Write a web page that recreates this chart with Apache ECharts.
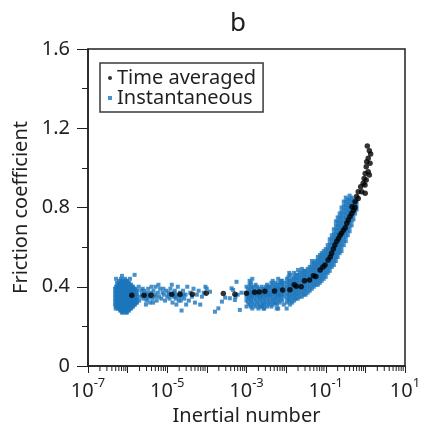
<!DOCTYPE html>
<html><head><meta charset="utf-8">
<script src="https://cdn.jsdelivr.net/npm/echarts@6/dist/echarts.min.js"></script>
<style>html,body{margin:0;padding:0;background:#fff}#c{width:422px;height:424px}</style>
</head><body><div id="c"></div>
<script>
const FONT = 'Noto Sans';
const INK = '#231f20';
const BLUE = '#1b75bb';
const titleText = 'b';
const xName = 'Inertial number';
const yName = 'Friction coefficient';
const seriesNames = ['Time averaged', 'Instantaneous'];
const xMin = 1e-7, xMax = 10;
const yMin = 0, yMax = 1.6, yStep = 0.4;
const xLabelExponents = [-7, -5, -3, -1, 1];
const minorTickMantissas = [2, 3, 4, 5, 6, 7, 8, 9];

// Time averaged (black dots)
const timeAveraged = [
  [1.27e-6,0.357],[2.6e-6,0.357],[3.9e-6,0.357],[1.3e-5,0.362],[2.1e-5,0.362],[4.3e-5,0.362],
  [9.6e-5,0.367],[2.6e-4,0.366],[5.1e-4,0.362],[1.0e-3,0.367],[1.6e-3,0.372],[2.1e-3,0.373],
  [2.9e-3,0.377],[5.1e-3,0.379],[8.2e-3,0.383],[1.25e-2,0.385],[1.6e-2,0.41],[1.8e-2,0.403],
  [2.4e-2,0.40],[2.9e-2,0.43],[3.9e-2,0.434],[4.9e-2,0.455],[5.6e-2,0.452],[7.2e-2,0.484],
  [8.5e-2,0.50],[9.6e-2,0.51],[0.115,0.535],[0.13,0.55],[0.141,0.569],[0.155,0.59],[0.17,0.611],
  [0.19,0.63],[0.209,0.644],[0.23,0.66],[0.25,0.67],[0.28,0.685],[0.31,0.698],[0.34,0.72],
  [0.37,0.737],[0.41,0.755],[0.45,0.77],[0.5,0.785],[0.55,0.80],[0.46,0.804],[0.55,0.829],
  [0.60,0.855],[0.66,0.846],[0.66,0.88],[0.76,0.905],[0.81,0.88],[0.88,0.922],[0.99,0.872],
  [0.98,0.913],[0.93,0.947],[1.05,0.939],[0.99,0.972],[1.26,0.964],[1.18,0.98],[1.05,1.006],
  [1.31,1.023],[1.08,1.031],[1.18,1.048],[1.36,1.07],[1.26,1.087],[1.12,1.11]
];

// Instantaneous (blue squares): columns [x, [y values read at that x]]
const instBlob = [
  [4.8e-7,[0.31,0.33,0.35,0.37,0.39]],
  [5.1e-7,[0.30,0.32,0.34,0.36,0.38,0.40]],
  [5.4e-7,[0.30,0.32,0.34,0.36,0.38,0.40,0.42]],
  [5.75e-7,[0.29,0.31,0.33,0.35,0.37,0.39,0.41]],
  [6.1e-7,[0.29,0.31,0.33,0.35,0.37,0.39,0.41,0.43]],
  [6.45e-7,[0.28,0.30,0.32,0.34,0.36,0.38,0.40,0.42]],
  [6.8e-7,[0.28,0.30,0.32,0.34,0.36,0.38,0.40,0.42,0.44]],
  [7.2e-7,[0.27,0.29,0.31,0.33,0.35,0.37,0.39,0.41,0.43]],
  [7.6e-7,[0.27,0.29,0.31,0.33,0.35,0.37,0.39,0.41,0.43]],
  [8.1e-7,[0.28,0.30,0.32,0.34,0.36,0.38,0.40,0.42]],
  [8.6e-7,[0.28,0.30,0.32,0.34,0.36,0.38,0.40,0.42,0.44]],
  [9.1e-7,[0.27,0.29,0.31,0.33,0.35,0.37,0.39,0.41,0.43]],
  [9.6e-7,[0.27,0.29,0.31,0.33,0.35,0.37,0.39,0.41,0.43]],
  [1.02e-6,[0.28,0.30,0.32,0.34,0.36,0.38,0.40,0.42]],
  [1.08e-6,[0.28,0.30,0.32,0.34,0.36,0.38,0.40,0.42]],
  [1.15e-6,[0.29,0.31,0.33,0.35,0.37,0.39,0.41]],
  [1.22e-6,[0.29,0.31,0.33,0.35,0.37,0.39,0.41]],
  [1.3e-6,[0.30,0.32,0.34,0.36,0.38,0.40]],
  [1.37e-6,[0.30,0.32,0.34,0.36,0.38,0.40]],
  [1.45e-6,[0.31,0.33,0.35,0.37,0.39]],
  [1.54e-6,[0.31,0.33,0.35,0.37,0.39]],
  [1.63e-6,[0.32,0.34,0.36,0.38]],
  [1.73e-6,[0.32,0.34,0.36,0.38]]
];
const instFlat = [
  [5.1e-7,0.44],[7.2e-7,0.455],[1.5e-6,0.46],[1.15e-6,0.44],[5.0e-7,0.29],[1.9e-6,0.40],[1.95e-6,0.33],
  [2.3e-6,0.36],[2.5e-6,0.34],[2.6e-6,0.38],[2.8e-6,0.35],[3.0e-6,0.33],[3.1e-6,0.37],[3.3e-6,0.39],
  [3.5e-6,0.35],[3.7e-6,0.32],[3.9e-6,0.37],[4.2e-6,0.34],[4.5e-6,0.38],[4.8e-6,0.36],[5.1e-6,0.40],
  [5.4e-6,0.33],[5.8e-6,0.37],[6.2e-6,0.35],[6.6e-6,0.39],[7.1e-6,0.34],[7.6e-6,0.37],[8.2e-6,0.36],
  [8.8e-6,0.33],[9.4e-6,0.38],[1.0e-5,0.35],[1.07e-5,0.37],[1.14e-5,0.34],[1.2e-5,0.39],[1.28e-5,0.36],
  [1.36e-5,0.32],[1.45e-5,0.35],[1.55e-5,0.38],[1.65e-5,0.34],[1.75e-5,0.36],[1.85e-5,0.40],[1.95e-5,0.33],
  [2.1e-5,0.37],[2.3e-5,0.28],[2.3e-5,0.35],[2.5e-5,0.38],[2.7e-5,0.34],[2.9e-5,0.36],[3.2e-5,0.40],
  [3.5e-5,0.33],[3.8e-5,0.37],[4.2e-5,0.35],[4.6e-5,0.39],[5.0e-5,0.32],[5.6e-5,0.36],[6.2e-5,0.38],
  [6.8e-5,0.31],[7.5e-5,0.35],[8.3e-5,0.37],[9.2e-5,0.40],[9.9e-5,0.39],[1.2e-4,0.375],
  [2.4e-6,0.39],[2.9e-6,0.31],[3.4e-6,0.36],[4.0e-6,0.40],[4.4e-6,0.32],[5.0e-6,0.35],[1.3e-5,0.41],
  [1.5e-5,0.37],[1.7e-5,0.31],[2.0e-5,0.35],[2.2e-5,0.33],[2.6e-5,0.36],[3.0e-5,0.31],[1.6e-5,0.35],
  [1.1e-5,0.36],[8.0e-6,0.39],[6.0e-6,0.41],[2.1e-6,0.35],[2.2e-6,0.38],[2.7e-6,0.36],[3.2e-6,0.34],
  [1.6e-4,0.274],[1.95e-4,0.291],[2.4e-4,0.325],[2.9e-4,0.345],[3.8e-4,0.342],[4.2e-4,0.392],
  [4.6e-4,0.384],[5.1e-4,0.333],[5.6e-4,0.425],[5.3e-4,0.35],[6.8e-4,0.283],[6.0e-4,0.36],[7.5e-4,0.37]
];
const instMid = [
  [1.0e-3,[0.30,0.33,0.35,0.37,0.40]],
  [1.1e-3,[0.32,0.34,0.36,0.39]],
  [1.2e-3,[0.31,0.34,0.36,0.38,0.41,0.43]],
  [1.3e-3,[0.30,0.33,0.35,0.37,0.40,0.42]],
  [1.4e-3,[0.29,0.32,0.35,0.37,0.39,0.44]],
  [1.55e-3,[0.31,0.34,0.36,0.38,0.40]],
  [1.7e-3,[0.30,0.33,0.36,0.38,0.41]],
  [1.85e-3,[0.32,0.35,0.37,0.40]],
  [2.0e-3,[0.29,0.31,0.34,0.36,0.39]],
  [2.2e-3,[0.30,0.33,0.35,0.38]],
  [2.4e-3,[0.30,0.32,0.35,0.37,0.40]],
  [2.6e-3,[0.31,0.34,0.36,0.39]],
  [2.8e-3,[0.29,0.31,0.33,0.36,0.38]],
  [3.05e-3,[0.32,0.35,0.37,0.40]],
  [3.3e-3,[0.30,0.34,0.36,0.39,0.41]],
  [3.6e-3,[0.31,0.33,0.36,0.38,0.40]],
  [3.9e-3,[0.32,0.35,0.37,0.40]],
  [4.25e-3,[0.30,0.34,0.36,0.39,0.42]],
  [4.6e-3,[0.31,0.33,0.36,0.38,0.41,0.43]],
  [5.0e-3,[0.32,0.34,0.37,0.40]],
  [5.4e-3,[0.32,0.35,0.37,0.39,0.42]],
  [5.85e-3,[0.31,0.34,0.36,0.39,0.41]],
  [6.3e-3,[0.29,0.33,0.36,0.38,0.40,0.44]],
  [6.8e-3,[0.32,0.35,0.37,0.39,0.42]],
  [7.4e-3,[0.34,0.36,0.39,0.41,0.43]],
  [8.0e-3,[0.33,0.36,0.38,0.41,0.43]],
  [8.7e-3,[0.31,0.35,0.37,0.40,0.42]]
];
const instRise = [
  [0.0105,[0.32,0.34,0.36,0.38,0.40,0.42,0.44]],
  [0.0115,[0.33,0.35,0.37,0.39,0.41,0.43,0.45]],
  [0.0126,[0.31,0.33,0.35,0.37,0.39,0.41,0.43,0.46]],
  [0.0142,[0.32,0.34,0.36,0.38,0.40,0.42,0.44]],
  [0.0159,[0.33,0.35,0.37,0.39,0.41,0.43,0.45,0.47]],
  [0.0177,[0.34,0.36,0.38,0.40,0.42,0.44,0.46]],
  [0.0197,[0.34,0.36,0.38,0.40,0.42,0.44,0.46]],
  [0.022,[0.35,0.37,0.39,0.41,0.43,0.45,0.47]],
  [0.025,[0.35,0.37,0.39,0.41,0.43,0.45,0.47,0.49]],
  [0.028,[0.36,0.38,0.40,0.42,0.44,0.46,0.48]],
  [0.031,[0.36,0.38,0.40,0.42,0.44,0.46,0.48]],
  [0.035,[0.37,0.39,0.41,0.43,0.45,0.47,0.49]],
  [0.0395,[0.38,0.40,0.42,0.44,0.46,0.48,0.50]],
  [0.0445,[0.39,0.41,0.43,0.45,0.47,0.49,0.51]],
  [0.050,[0.40,0.42,0.44,0.46,0.48,0.50,0.52]],
  [0.056,[0.41,0.43,0.45,0.47,0.49,0.51,0.53]],
  [0.063,[0.41,0.43,0.45,0.47,0.49,0.51,0.53,0.55]],
  [0.071,[0.42,0.44,0.46,0.48,0.50,0.52,0.54,0.56]],
  [0.079,[0.43,0.45,0.47,0.49,0.51,0.53,0.55,0.57]],
  [0.089,[0.44,0.46,0.48,0.50,0.52,0.54,0.56,0.58]],
  [0.10,[0.45,0.47,0.49,0.51,0.53,0.55,0.57,0.59]],
  [0.112,[0.47,0.49,0.51,0.53,0.55,0.57,0.59,0.61]],
  [0.126,[0.48,0.50,0.52,0.54,0.56,0.58,0.60,0.62,0.64]],
  [0.142,[0.50,0.52,0.54,0.56,0.58,0.60,0.62,0.64,0.66]],
  [0.16,[0.51,0.53,0.55,0.57,0.59,0.61,0.63,0.65,0.67,0.69]],
  [0.18,[0.53,0.55,0.57,0.59,0.61,0.63,0.65,0.67,0.69,0.71,0.73]],
  [0.20,[0.55,0.57,0.59,0.61,0.63,0.65,0.67,0.69,0.71,0.73,0.75]],
  [0.225,[0.57,0.59,0.61,0.63,0.65,0.67,0.69,0.71,0.73,0.75,0.77]],
  [0.25,[0.58,0.60,0.62,0.64,0.66,0.68,0.70,0.72,0.74,0.76,0.78,0.80]],
  [0.285,[0.61,0.63,0.65,0.67,0.69,0.71,0.73,0.75,0.77,0.79,0.81,0.83]],
  [0.32,[0.63,0.65,0.67,0.69,0.71,0.73,0.75,0.77,0.79,0.81,0.83,0.85]],
  [0.36,[0.66,0.68,0.70,0.72,0.74,0.76,0.78,0.80,0.82,0.84]],
  [0.40,[0.68,0.70,0.72,0.74,0.76,0.78,0.80,0.82,0.84,0.86]],
  [0.45,[0.71,0.73,0.75,0.77,0.79,0.81,0.83,0.85]],
  [0.50,[0.74,0.76,0.78,0.80,0.82,0.84]],
  [0.55,[0.77,0.79,0.81,0.83]],
  [0.60,[0.79,0.81,0.83]]
];
const instExtra = [
  [0.012,0.47],[0.02,0.485],[0.045,0.53],[0.0103,0.29],[5.8e-3,0.29],[2.7e-3,0.29]
];

function fromColumns(cols) {
  const out = [];
  cols.forEach(c => c[1].forEach(y => out.push([c[0], y])));
  return out;
}
const instantaneous = [].concat(fromColumns(instBlob), instFlat, fromColumns(instMid), fromColumns(instRise), instExtra);

const minorTickData = [];
for (let e = Math.round(Math.log10(xMin)); e < Math.round(Math.log10(xMax)); e++) {
  minorTickMantissas.forEach(m => minorTickData.push([m * Math.pow(10, e), 0]));
}

const chart = echarts.init(document.getElementById('c'), null, {renderer: 'canvas'});
const txt = (size) => ({fontFamily: FONT, fontSize: size, color: INK});
chart.setOption({
  animation: false,
  backgroundColor: '#fff',
  title: {text: titleText, left: 225, top: 6, textStyle: Object.assign(txt(26), {fontWeight: 'normal'})},
  grid: {left: 88, right: 17, top: 49, bottom: 58, containLabel: false, outerBoundsMode: 'none',
         show: true, borderColor: INK, borderWidth: 1.5, backgroundColor: 'transparent'},
  legend: {
    orient: 'vertical', left: 100, top: 63, selectedMode: false,
    data: [{name: seriesNames[0], icon: 'circle'}, {name: seriesNames[1], icon: 'rect'}],
    itemWidth: 4, itemHeight: 4, itemGap: 0,
    borderColor: '#3a3a3a', borderWidth: 1.5, padding: [5, 7, 4, 8],
    textStyle: Object.assign(txt(20), {lineHeight: 20})
  },
  xAxis: {
    type: 'log', logBase: 10, min: xMin, max: xMax,
    name: xName, nameLocation: 'middle', nameGap: 30, nameTextStyle: txt(20),
    axisLine: {show: true, lineStyle: {color: INK, width: 1.5}},
    axisTick: {show: true, inside: false, length: 7, lineStyle: {color: INK, width: 1}},
    splitLine: {show: false},
    axisLabel: {
      margin: 11,
      formatter: v => {
        const e = Math.round(Math.log10(v));
        return xLabelExponents.includes(e) ? '{b|10}{s|' + e + '}' : '';
      },
      rich: {
        b: Object.assign(txt(20), {verticalAlign: 'bottom', lineHeight: 24}),
        s: Object.assign(txt(13), {verticalAlign: 'top', lineHeight: 13})
      }
    }
  },
  yAxis: {
    type: 'value', min: yMin, max: yMax, interval: yStep,
    name: yName, nameLocation: 'middle', nameGap: 56, nameRotate: 90, nameTextStyle: txt(20),
    axisLine: {show: true, lineStyle: {color: INK, width: 1.5}},
    axisTick: {show: true, inside: false, length: 11, lineStyle: {color: INK, width: 1}},
    minorTick: {show: true, splitNumber: 2, length: 6, lineStyle: {color: INK, width: 1}},
    splitLine: {show: false}, minorSplitLine: {show: false},
    axisLabel: Object.assign(txt(20), {margin: 18})
  },
  series: [
    {
      name: seriesNames[1], type: 'scatter', data: instantaneous,
      symbol: 'rect', symbolSize: 4, itemStyle: {color: BLUE}, silent: true, z: 2
    },
    {
      name: seriesNames[0], type: 'scatter', data: timeAveraged,
      symbol: 'circle', symbolSize: 5.5, itemStyle: {color: '#000'}, silent: true, z: 3
    },
    {
      name: 'minorTicks', type: 'custom', data: minorTickData, silent: true, clip: false, z: 4,
      renderItem: (params, api) => {
        const p = api.coord([api.value(0), 0]);
        return {type: 'line', shape: {x1: p[0], y1: p[1], x2: p[0], y2: p[1] + 5},
                style: {stroke: INK, lineWidth: 1}};
      }
    }
  ]
});
</script></body></html>
